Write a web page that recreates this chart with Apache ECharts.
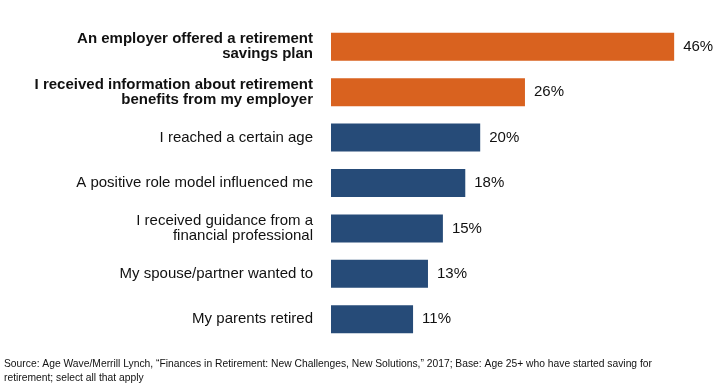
<!DOCTYPE html>
<html><head><meta charset="utf-8">
<script src="https://cdn.jsdelivr.net/npm/echarts@6/dist/echarts.min.js"></script>
<style>html,body{margin:0;padding:0;background:#fff}#c{width:720px;height:384px}</style>
</head><body><div id="c"></div>
<script>
const categories = [
  "An employer offered a retirement\nsavings plan",
  "I received information about retirement\nbenefits from my employer",
  "I reached a certain age",
  "A positive role model influenced me",
  "I received guidance from a\nfinancial professional",
  "My spouse/partner wanted to",
  "My parents retired"
];
const values = [46, 26, 20, 18, 15, 13, 11];
const highlighted = [true, true, false, false, false, false, false];
const footnote = "Source: Age Wave/Merrill Lynch, \u201cFinances in Retirement: New Challenges, New Solutions,\u201d 2017; Base: Age 25+ who have started saving for\nretirement; select all that apply";

const ORANGE = '#D9621F', NAVY = '#264B78';
const FONT = 'Liberation Sans, Arial, sans-serif';
const chart = echarts.init(document.getElementById('c'));
chart.setOption({
  animation: false,
  textStyle: { fontFamily: FONT },
  grid: { left: 331, right: 16, top: 24, bottom: 42 },
  xAxis: { type: 'value', min: 0, max: 50, show: false },
  yAxis: {
    type: 'category', inverse: true, data: categories,
    axisLine: { show: false }, axisTick: { show: false },
    axisLabel: {
      margin: 18, color: '#111', fontSize: 15, align: 'right', lineHeight: 15,
      formatter: function (v, i) {
        return highlighted[i] ? v.split('\n').map(s => '{b|' + s + '}').join('\n') : v;
      },
      rich: { b: { fontWeight: 'bold', fontSize: 15, color: '#111', lineHeight: 15, fontFamily: FONT } }
    }
  },
  series: [{
    type: 'bar', barWidth: 28,
    data: values.map((v, i) => ({ value: v, itemStyle: { color: highlighted[i] ? ORANGE : NAVY } })),
    label: { show: true, position: 'right', distance: 9, fontSize: 15, color: '#111', formatter: '{c}%' }
  }],
  graphic: [{
    type: 'text', left: 4, top: 357,
    style: { text: footnote, fontSize: 10.3, lineHeight: 14, fill: '#111', fontFamily: FONT }
  }]
});
</script></body></html>
